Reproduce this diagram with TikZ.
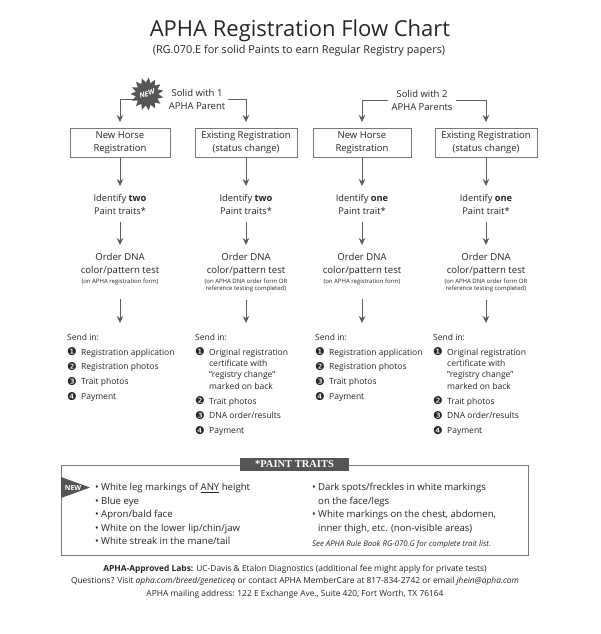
\documentclass[tikz,border=0pt]{standalone}
\usepackage{fontspec}
\setmainfont{Open Sans}
\newfontfamily\dejavu{DejaVu Sans}
\newfontfamily\slab{Liberation Serif}
\usetikzlibrary{shapes.geometric,arrows.meta}
\definecolor{txt}{HTML}{262626}
\definecolor{ln}{HTML}{5E5E5E}
\definecolor{bx}{HTML}{7A7A7A}
\definecolor{dk}{HTML}{555555}
\newcommand\nc[1]{\makebox[14pt][l]{\raisebox{-0.6pt}{\dejavu\fontsize{10.8}{10}\selectfont #1}}}
\newcommand\ind{\hspace*{14pt}}
\newcommand\bul{\makebox[6pt][l]{•}}
\newcommand\bind{\hspace*{6pt}}
\begin{document}
\begin{tikzpicture}[x=1pt,y=-1pt,
  every node/.style={text=txt, inner sep=0pt},
  fbox/.style={draw=bx, line width=0.9pt, minimum width=100pt, minimum height=29pt, align=center, font=\fontsize{9.5}{13.5}\selectfont},
  body/.style={align=center, font=\fontsize{9.3}{13}\selectfont, anchor=north},
  dnas/.style={align=center, font=\fontsize{9.6}{12.5}\selectfont, anchor=north},
  note/.style={align=center, font=\fontsize{6}{7.5}\selectfont, anchor=north},
  sendl/.style={align=left, anchor=north west, font=\fontsize{8.5}{11.4}\selectfont},
  conn/.style={draw=ln, line width=0.9pt, -{Stealth[length=7pt,width=6.5pt]}},
  trait/.style={align=left, anchor=north west, font=\fontsize{9.6}{13.5}\selectfont}
]
\useasboundingbox (0,0) rectangle (600,634);
\fill[white] (0,0) rectangle (600,634);

\node[anchor=base, font=\fontsize{22}{26}\selectfont] (title) at (300,37) {APHA Registration Flow Chart};
\node[anchor=base, font=\fontsize{10.9}{12}\selectfont] (sub) at (299,53) {(RG.070.E for solid Paints to earn Regular Registry papers)};

\node[align=center,font=\fontsize{9.5}{13}\selectfont] (sol1) at (197,99.5) {Solid with 1\\APHA Parent};
\node[align=center,font=\fontsize{9.5}{13}\selectfont] (sol2) at (422,100.5) {Solid with 2\\APHA Parents};

\node[fbox] (b1) at (120,142.5) {New Horse\\Registration};
\node[fbox, minimum width=102pt] (b2) at (246,142.5) {Existing Registration\\(status change)};
\node[fbox, minimum width=98pt] (b3) at (362,142.5) {New Horse\\Registration};
\node[fbox, minimum width=102pt] (b4) at (486,142.5) {Existing Registration\\(status change)};

\coordinate (sl1) at (136,99);
\draw[conn, shorten >=5.5pt] (sl1) -| (b1.north);
\draw[conn, shorten >=5.5pt] ([xshift=3pt]sol1.east) -| (b2.north);
\draw[conn, shorten >=5.5pt] ([xshift=-3pt]sol2.west) -| (b3.north);
\draw[conn, shorten >=5.5pt] ([xshift=3pt]sol2.east) -| (b4.north);

\node[star, star points=15, star point ratio=1.45, fill=dk, minimum size=33pt, rotate=18, text=white, font=\bfseries\itshape\fontsize{7.2}{7.2}\selectfont] (star) at (147,94) {NEW};

\node[body] (id1) at (120,194.5) {Identify \textbf{two}\\Paint traits*};
\node[body] (id2) at (246,194.5) {Identify \textbf{two}\\Paint traits*};
\node[body] (id3) at (362,194.5) {Identify \textbf{one}\\Paint trait*};
\node[body] (id4) at (486,194.5) {Identify \textbf{one}\\Paint trait*};

\node[dnas] (d1) at (120,253.5) {Order DNA\\color/pattern test};
\node[dnas] (d2) at (246,253.5) {Order DNA\\color/pattern test};
\node[dnas] (d3) at (362,253.5) {Order DNA\\color/pattern test};
\node[dnas] (d4) at (486,253.5) {Order DNA\\color/pattern test};

\node[note] (n1) at (120,278.5) {(on APHA registration form)\\\vphantom{(}};
\node[note] (n2) at (246,278.5) {(on APHA DNA order form OR\\reference testing completed)};
\node[note] (n3) at (362,278.5) {(on APHA registration form)\\\vphantom{(}};
\node[note] (n4) at (486,278.5) {(on APHA DNA order form OR\\reference testing completed)};

\node[sendl] (s1) at (67,333.5) {Send in:\\[3.6pt]
\nc{❶}Registration application\\[3.4pt]
\nc{❷}Registration photos\\[3.4pt]
\nc{❸}Trait photos\\[3.4pt]
\nc{❹}Payment};
\node[sendl] (s2) at (195,333.5) {Send in:\\[3.6pt]
\nc{❶}Original registration\\
\ind certificate with\\
\ind “registry change”\\
\ind marked on back\\[3.4pt]
\nc{❷}Trait photos\\[3.4pt]
\nc{❸}DNA order/results\\[3.4pt]
\nc{❹}Payment};
\node[sendl] (s3) at (315,333.5) {Send in:\\[3.6pt]
\nc{❶}Registration application\\[3.4pt]
\nc{❷}Registration photos\\[3.4pt]
\nc{❸}Trait photos\\[3.4pt]
\nc{❹}Payment};
\node[sendl] (s4) at (433,333.5) {Send in:\\[3.6pt]
\nc{❶}Original registration\\
\ind certificate with\\
\ind “registry change”\\
\ind marked on back\\[3.4pt]
\nc{❷}Trait photos\\[3.4pt]
\nc{❸}DNA order/results\\[3.4pt]
\nc{❹}Payment};

\foreach \i in {1,2,3,4}{
  \draw[conn, shorten >=8.5pt] (b\i.south) -- (id\i.north);
  \draw[conn, shorten <=7pt, shorten >=8.5pt] (id\i.south) -- (d\i.north);
  \draw[conn, shorten <=7.5pt, shorten >=10.5pt] (n\i.south) -- (n\i.south |- s\i.north);
}

\node[draw=bx, line width=0.9pt, minimum width=467pt, minimum height=90pt, anchor=north west] (tbox) at (61,465) {};
\node[fill=dk, minimum width=109pt, minimum height=13.5pt, text=white, font=\slab\bfseries\fontsize{10.5}{10}\selectfont] (thead) at (294.5,464.5) {*PAINT TRAITS};
\fill[dk] (61,477) -- (90,487.5) -- (61,498) -- cycle;
\node[text=white, font=\bfseries\fontsize{7}{7}\selectfont] (flag) at (73,487.5) {NEW};

\node[trait] (tl) at (95,483) {\bul White leg markings of \underline{ANY} height\\
\bul Blue eye\\
\bul Apron/bald face\\
\bul White on the lower lip/chin/jaw\\
\bul White streak in the mane/tail};
\node[trait] (tr) at (312,483) {\bul Dark spots/freckles in white markings\\
\bind on the face/legs\\
\bul White markings on the chest, abdomen,\\
\bind inner thigh, etc. (non-visible areas)};
\node[anchor=north west, font=\itshape\fontsize{7.8}{10}\selectfont] (rule) at (312,540) {See APHA Rule Book RG-070.G for complete trait list.};

\node[align=center, font=\fontsize{8.4}{12.5}\selectfont] (foot) at (295,581.5) {\textbf{APHA-Approved Labs:} UC-Davis \& Etalon Diagnostics (additional fee might apply for private tests)\\
Questions? Visit \textit{apha.com/breed/geneticeq} or contact APHA MemberCare at 817-834-2742 or email \textit{jhein@apha.com}\\
APHA mailing address: 122 E Exchange Ave., Suite 420, Fort Worth, TX 76164};
\end{tikzpicture}
\end{document}
